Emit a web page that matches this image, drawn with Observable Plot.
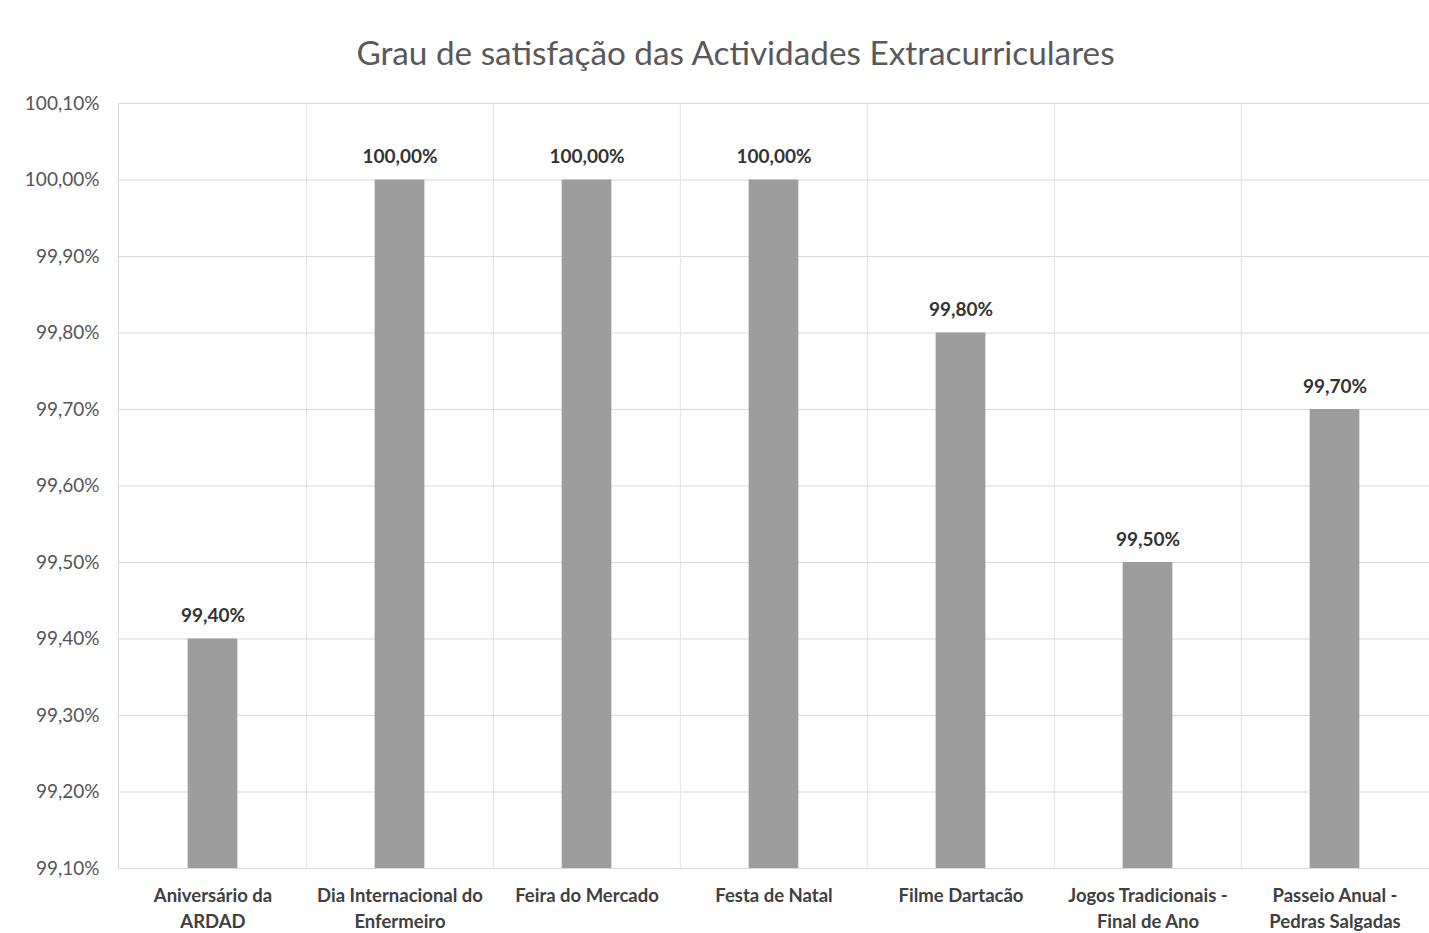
<!DOCTYPE html>
<html>
<head>
<meta charset="utf-8">
<script src="https://cdn.jsdelivr.net/npm/d3@7"></script>
<script src="https://cdn.jsdelivr.net/npm/@observablehq/plot@0.6"></script>
<style>
  html, body { margin: 0; padding: 0; background: #fff; }
  #title { height: 90px; box-sizing: border-box; padding-top: 32px; padding-left: 42px; text-align: center;
    font-family: Lato, sans-serif; font-size: 33.3px; color: #595959; line-height: 40px; }
  svg { display: block; }
</style>
</head>
<body>
<div id="title">Grau de satisfação das Actividades Extracurriculares</div>
<div id="chart"></div>
<script>
const categories = [
  "Aniversário da\nARDAD",
  "Dia Internacional do\nEnfermeiro",
  "Feira do Mercado",
  "Festa de Natal",
  "Filme Dartacão",
  "Jogos Tradicionais -\nFinal de Ano",
  "Passeio Anual -\nPedras Salgadas"
];
const values = [99.4, 100.0, 100.0, 100.0, 99.8, 99.5, 99.7];
const yTicks = [99.1, 99.2, 99.3, 99.4, 99.5, 99.6, 99.7, 99.8, 99.9, 100.0, 100.1];

const data = categories.map((c, i) => ({cat: c, v: values[i]}));
const fmt = d => d.toFixed(2).replace(".", ",") + "%";

const W = 1429, H = 843, ML = 118, MR = 0, MT = 13, MB = 65;
const step = (W - ML - MR) / categories.length;
const barW = 50;
const inset = (step - barW) / 2;

const chart = Plot.plot({
  width: W, height: H,
  marginLeft: ML, marginRight: MR, marginTop: MT, marginBottom: MB,
  style: {fontFamily: "Lato, sans-serif", background: "#fff"},
  x: {domain: categories, padding: 0, label: null},
  y: {domain: [99.1, 100.1], label: null},
  marks: [
    Plot.gridY(yTicks, {stroke: "#d9d9d9", strokeOpacity: 1}),
    Plot.ruleX(categories.slice(1), {x: d => d, dx: -step / 2, stroke: "#e3e3e3"}),
    Plot.frame({stroke: "#d9d9d9"}),
    Plot.barY(data, {x: "cat", y1: () => 99.1, y2: "v", fill: "#9d9d9d", insetLeft: inset, insetRight: inset}),
    Plot.text(data, {x: "cat", y: "v", text: d => fmt(d.v), dy: -23, fontSize: 19, fontWeight: "bold", fill: "#333"}),
    Plot.axisY({ticks: yTicks, tickFormat: fmt, tickSize: 0, tickPadding: 19, fontSize: 19, fill: "#555", label: null}),
    Plot.axisX({tickSize: 0, tickPadding: 15, fontSize: 18.5, fontWeight: "bold", fill: "#404040", lineHeight: 1.4, label: null})
  ]
});
document.getElementById("chart").appendChild(chart);
</script>
</body>
</html>
